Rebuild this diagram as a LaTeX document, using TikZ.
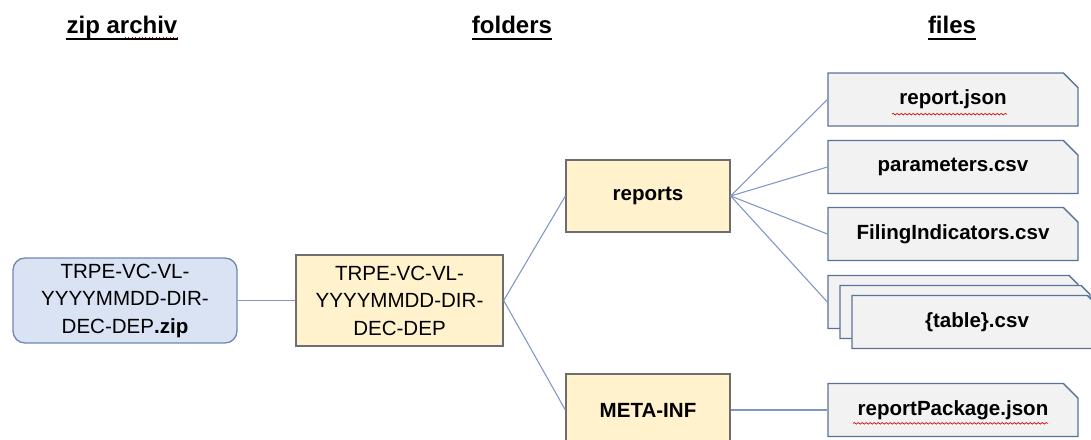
\documentclass[tikz,border=0pt]{standalone}
\usepackage{fontspec}
\setmainfont{Liberation Sans}
\usetikzlibrary{shapes.misc,decorations.pathmorphing}
\definecolor{zipfill}{HTML}{DAE3F3}
\definecolor{zipline}{HTML}{6F87B5}
\definecolor{dirfill}{HTML}{FFF2CC}
\definecolor{dirline}{HTML}{6E6E6E}
\definecolor{filefill}{HTML}{F2F2F2}
\definecolor{fileline}{HTML}{5B7399}
\definecolor{linkcol}{HTML}{7F96C6}

\begin{document}
\begin{tikzpicture}[x=0.75pt, y=-0.75pt,
    head/.style={font=\fontsize{18}{20}\selectfont\bfseries, inner sep=0pt, anchor=base},
    zipbox/.style={draw=zipline, fill=zipfill, line width=1pt, rounded corners=9pt, minimum width=168pt, minimum height=63.75pt, align=center, font=\fontsize{15.4}{20.6}\selectfont},
    dirbox/.style={draw=dirline, fill=dirfill, line width=1pt, minimum width=155.25pt, minimum height=68.25pt, align=center, font=\fontsize{15.4}{20.6}\selectfont},
    subbox/.style={dirbox, minimum width=123pt, minimum height=54pt, font=\fontsize{15.4}{18}\selectfont\bfseries},
    filebox/.style={chamfered rectangle, chamfered rectangle corners=north east, chamfered rectangle xsep=7.5pt, draw=fileline, fill=filefill, line width=1pt, minimum width=187.5pt, minimum height=39.75pt, font=\fontsize{15.4}{18}\selectfont\bfseries},
    link/.style={draw=linkcol, line width=0.8pt},
    squiggle/.style={draw=red!80!black, line width=0.5pt, decorate, decoration={snake, amplitude=0.6pt, segment length=3pt}}]
        \useasboundingbox (0,0) rectangle (1091,439);

        % column headers
        \node (hzip) at (122,33) [head] {zip archiv};
        \node (hdir) at (512,33) [head] {folders};
        \node (hfile) at (952,33) [head] {files};
        \foreach \h in {hzip,hdir,hfile} \draw[line width=1.5pt] ([yshift=-4.5pt]\h.base west) -- ([yshift=-4.5pt]\h.base east);
        \draw[red!80!black, line width=0.6pt, dotted] ([xshift=2pt,yshift=-3pt]hzip.base) -- ([yshift=-3pt]hzip.base east);

        \node (zip) at (125,300.5) [zipbox] {TRPE-VC-VL-\\YYYYMMDD-DIR-\\DEC-DEP\textbf{.zip}};
        \node (dir) at (399.5,300.5) [dirbox] {TRPE-VC-VL-\\YYYYMMDD-DIR-\\DEC-DEP};
        \node (rep) at (648,196) [subbox] {reports};
        \node (meta) at (648,410) [subbox] {META-INF};

        \foreach \f/\y/\t in {rj/99.5/report.json, par/167/parameters.csv, fil/234/FilingIndicators.csv, pkg/410/reportPackage.json}
            \node (\f) at (953,\y) [filebox] {\t};
        \foreach \i in {0,1} \node (tab\i) at ({953+12*\i},{302+10*\i}) [filebox] {};
        \node (tab2) at (977,322) [filebox] {\{table\}.csv};

        \draw[link] (zip.east) -- (dir.west);
        \draw[link] (dir.east) -- (rep.west);
        \draw[link] (dir.east) -- (meta.west);
        \foreach \f in {rj,par,fil,tab0} \draw[link] (rep.east) -- (\f.west);
        \draw[link] (meta.east) -- (pkg.west);

        % spell check marks
        \draw[squiggle] ([xshift=-45.75pt,yshift=-11pt]rj.center) -- ([xshift=40.5pt,yshift=-11pt]rj.center);
        \draw[squiggle] ([xshift=-75pt,yshift=-10pt]pkg.center) -- ([xshift=71.25pt,yshift=-10pt]pkg.center);
\end{tikzpicture}
\end{document}
